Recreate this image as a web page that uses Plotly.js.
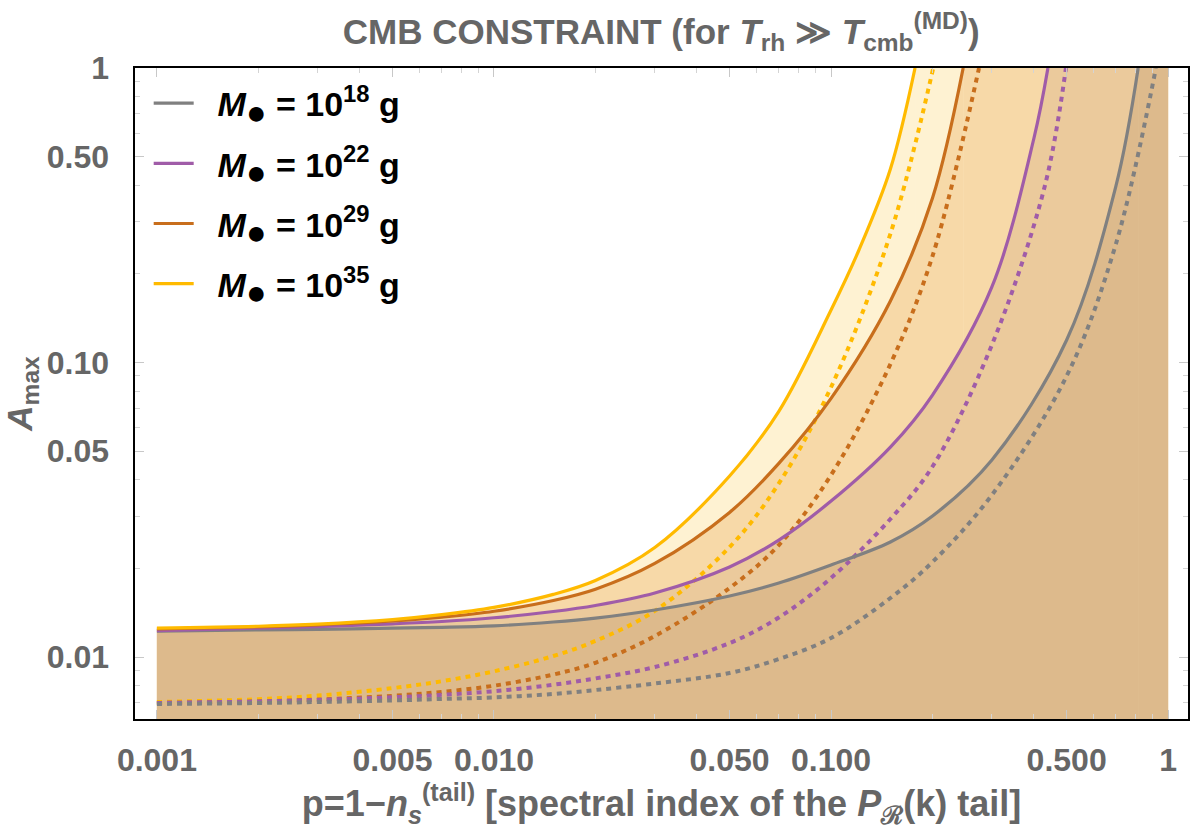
<!DOCTYPE html>
<html><head><meta charset="utf-8">
<script src="https://cdn.plot.ly/plotly-3.0.1.min.js"></script>
<style>body{margin:0;background:#fff}#chart{width:1200px;height:834px}</style>
</head><body><div id="chart"></div>
<script>
// ---- data ----
const BH = '<i>M</i><sub><span style="font-size:34px">●</span></sub>';
const legendLabels = [
  BH + ' = 10<sup>18</sup> g',
  BH + ' = 10<sup>22</sup> g',
  BH + ' = 10<sup>29</sup> g',
  BH + ' = 10<sup>35</sup> g'
];

const graySolidX = [0.001,0.002,0.003,0.005,0.007,0.01,0.015,0.02,0.03,0.05,0.07,0.1,0.15,0.2,0.3,0.5,0.7,0.815];
const graySolidY = [0.01225,0.01236,0.01242,0.01253,0.01261,0.01276,0.01315,0.01356,0.01444,0.01611,0.01783,0.02053,0.02458,0.03011,0.04667,0.1192,0.397,1.0];
const grayDotX = [0.001,0.002,0.003,0.005,0.007,0.01,0.015,0.02,0.03,0.05,0.07,0.1,0.15,0.2,0.3,0.5,0.7,0.92];
const grayDotY = [0.006925,0.00698,0.007035,0.00712,0.007204,0.007289,0.007491,0.007727,0.008128,0.008824,0.009845,0.0116,0.01586,0.02102,0.03549,0.08998,0.2526,1.0];

const purpleSolidX = [0.001,0.002,0.003,0.005,0.007,0.01,0.015,0.02,0.03,0.05,0.07,0.1,0.15,0.2,0.3,0.4,0.44];
const purpleSolidY = [0.0123,0.01253,0.01269,0.01296,0.0132,0.01359,0.01427,0.01496,0.01649,0.02021,0.02495,0.03385,0.05163,0.07755,0.1805,0.5785,1.0];
const purpleDotX = [0.001,0.002,0.003,0.005,0.007,0.01,0.015,0.02,0.03,0.05,0.07,0.1,0.15,0.2,0.3,0.43,0.4975];
const purpleDotY = [0.00698,0.007067,0.007151,0.007298,0.00744,0.007653,0.00805,0.008457,0.009247,0.01115,0.01362,0.01855,0.02942,0.04434,0.1147,0.3943,1.0];

const orangeSolidX = [0.001,0.002,0.003,0.005,0.007,0.01,0.015,0.02,0.03,0.05,0.07,0.1,0.15,0.2,0.2466];
const orangeSolidY = [0.01245,0.01266,0.01286,0.01325,0.01366,0.0143,0.01555,0.01699,0.02078,0.03097,0.04543,0.07551,0.1617,0.3619,1.0];
const orangeDotX = [0.001,0.002,0.003,0.005,0.007,0.01,0.015,0.02,0.03,0.05,0.07,0.1,0.15,0.2,0.2748];
const orangeDotY = [0.00698,0.007067,0.007168,0.007382,0.007614,0.00799,0.00872,0.00956,0.01178,0.01715,0.024,0.0415,0.0988,0.2299,1.0];

const yellowSolidX = [0.001,0.002,0.003,0.005,0.007,0.01,0.015,0.02,0.03,0.05,0.07,0.1,0.121,0.15,0.1775];
const yellowSolidY = [0.01254,0.01272,0.01293,0.0134,0.01392,0.01474,0.01632,0.01819,0.02353,0.04117,0.06829,0.1508,0.241,0.4539,1.0];
const yellowDotX = [0.001,0.002,0.003,0.005,0.007,0.01,0.015,0.02,0.03,0.05,0.07,0.1,0.15,0.201];
const yellowDotY = [0.007035,0.00719,0.007395,0.007842,0.008275,0.008943,0.01008,0.01134,0.01434,0.02361,0.03886,0.08243,0.2735,1.0];

const xTickVals = [0.001,0.005,0.01,0.05,0.1,0.5,1];
const xTickText = ['0.001','0.005','0.010','0.050','0.100','0.500','1'];
const xMinorVals = [0.002,0.003,0.004,0.006,0.007,0.008,0.009,0.02,0.03,0.04,0.06,0.07,0.08,0.09,0.2,0.3,0.4,0.6,0.7,0.8,0.9];
const yTickVals = [0.01,0.05,0.1,0.5,1];
const yTickText = ['0.01','0.05','0.10','0.50','1'];
const yMinorVals = [0.007,0.008,0.009,0.02,0.03,0.04,0.06,0.07,0.08,0.09,0.2,0.3,0.4,0.6,0.7,0.8,0.9];

// shaded regions run up to the right end of the data range (x = 1) and the top of the frame (y = 1)
const FILL_END_X = 1, FILL_TOP_Y = 1;

// ---- styling ----
const FONT = '"Liberation Sans", Arial, sans-serif';
const TXT = '#666666';
const colors = {gray:'#808080', purple:'#A05CA8', orange:'#C86E1C', yellow:'#FFBA00'};
const fills = {gray:'#DDBA8C', purple:'#EBCA9C', orange:'#F7D9A8', yellow:'#FEF2D2'};
const SPL = {shape:'spline', smoothing:1};

const series = [
  {key:'yellow', sx:yellowSolidX, sy:yellowSolidY, dx:yellowDotX, dy:yellowDotY, label:legendLabels[3]},
  {key:'orange', sx:orangeSolidX, sy:orangeSolidY, dx:orangeDotX, dy:orangeDotY, label:legendLabels[2]},
  {key:'purple', sx:purpleSolidX, sy:purpleSolidY, dx:purpleDotX, dy:purpleDotY, label:legendLabels[1]},
  {key:'gray',   sx:graySolidX,   sy:graySolidY,   dx:grayDotX,   dy:grayDotY,   label:legendLabels[0]}
];

const traces = [];
series.forEach(s => {
  traces.push({
    x: s.sx, y: s.sy, mode:'lines', line:Object.assign({width:0}, SPL),
    fill:'tozeroy', fillcolor:fills[s.key], showlegend:false, hoverinfo:'skip'
  });
  traces.push({
    x: [s.sx[s.sx.length-1], FILL_END_X], y: [FILL_TOP_Y, FILL_TOP_Y], mode:'lines', line:{width:0},
    fill:'tozeroy', fillcolor:fills[s.key], showlegend:false, hoverinfo:'skip'
  });
});
series.forEach(s => {
  traces.push({
    x: s.dx, y: s.dy, mode:'lines',
    line:Object.assign({color:colors[s.key], width:4, dash:'5px,5px'}, SPL),
    showlegend:false, hoverinfo:'skip'
  });
});
series.slice().reverse().forEach((s, i) => {
  traces.push({
    x: s.sx, y: s.sy, mode:'lines', name:'\u00a0\u00a0' + s.label,
    line:Object.assign({color:colors[s.key], width:3.2}, SPL),
    legendgroup:'g'+i, legendrank: i+1
  });
});

const axisCommon = {
  type:'log', showgrid:false, zeroline:false,
  showline:true, linecolor:'#000', linewidth:1.6, mirror:'allticks',
  ticks:'inside', ticklen:9, tickwidth:1, tickcolor:'#c8c8c8',
  tickfont:{family:FONT, size:32, color:TXT, weight:'bold'},
  tickmode:'array'
};

const layout = {
  width:1200, height:834,
  margin:{l:135, r:12, t:68, b:115},
  paper_bgcolor:'#fff', plot_bgcolor:'#fff',
  title:{
    text:'CMB CONSTRAINT (for <i>T</i><sub>rh</sub>\u00a0≫\u00a0<i>T</i><sub>cmb</sub><sup>(MD)</sup>)',
    font:{family:FONT, size:35, color:TXT, weight:'bold'},
    x:0.551, xanchor:'center', y:0.962, yanchor:'middle', yref:'container'
  },
  xaxis: Object.assign({}, axisCommon, {
    range:[Math.log10(0.001)-0.065, 0.059],
    tickvals:xTickVals, ticktext:xTickText, ticklabelstandoff:12,
    minor:{tickmode:'array', tickvals:xMinorVals, ticks:'inside', ticklen:5, tickcolor:'#d4d4d4', tickwidth:1},
    title:{text:'p=1−<i>n</i><sub><i>s</i></sub><sup>(tail)</sup> [spectral index of the <i>P</i><sub>ℛ</sub>(k) tail]',
      font:{family:FONT, size:36, color:TXT, weight:'bold'}, standoff:9}
  }),
  yaxis: Object.assign({}, axisCommon, {
    range:[-2.2105, 0],
    tickvals:yTickVals, ticktext:yTickText, ticklabelstandoff:18,
    minor:{tickmode:'array', tickvals:yMinorVals, ticks:'inside', ticklen:5, tickcolor:'#d4d4d4', tickwidth:1},
    title:{text:'<i>A</i><sub>max</sub>', font:{family:FONT, size:35, color:TXT, weight:'bold'}, standoff:6}
  }),
  legend:{
    x:0.013, y:0.99, xanchor:'left', yanchor:'top',
    bgcolor:'rgba(0,0,0,0)', borderwidth:0, itemwidth:40,
    font:{family:FONT, size:34, color:'#000', weight:'bold'},
    tracegroupgap:13, traceorder:'grouped'
  },
  showlegend:true
};

Plotly.newPlot('chart', traces, layout, {staticPlot:true, displayModeBar:false});
</script>
</body></html>
